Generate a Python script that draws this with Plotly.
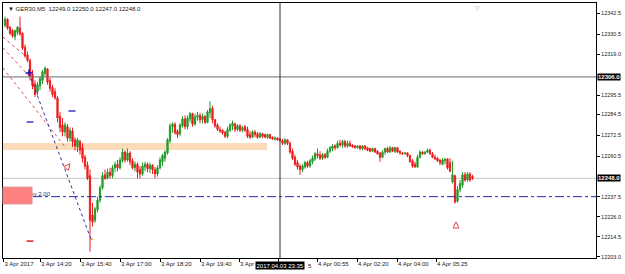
import plotly.graph_objects as go

# ---------------- data (GER30, M5) ----------------
opens = [
    12335.5, 12339, 12334.5, 12332.5, 12329, 12331.5, 12334, 12331, 12323, 12318.5,
    12315.5, 12307.5, 12302, 12297.5, 12301, 12304, 12308, 12310.5, 12304, 12300,
    12297.5, 12294, 12283.5, 12278.5, 12274.5, 12277.5, 12271, 12275, 12270, 12266,
    12269, 12265.5, 12260, 12255.5, 12249.5, 12227, 12224, 12230, 12235.5, 12242.5,
    12250, 12248, 12251.5, 12249.5, 12254, 12256, 12254, 12258, 12263, 12258.5,
    12262.5, 12258, 12254, 12256, 12253, 12250.5, 12254.5, 12256, 12253.5, 12255.5,
    12253, 12250.5, 12254, 12257.5, 12259.5, 12262.5, 12269.5, 12277.5, 12279, 12275,
    12273.5, 12278, 12282, 12277.5, 12282, 12285, 12279, 12283, 12284, 12281.5,
    12283.5, 12280, 12285.5, 12288, 12281.5, 12278.5, 12276, 12275.5, 12274.5, 12272,
    12275.5, 12278, 12279, 12276, 12278, 12275.5, 12277.5, 12276, 12273, 12271.5,
    12274.5, 12273.5, 12271.5, 12273.5, 12273, 12271.5, 12273, 12271.5, 12270.5, 12271,
    12270.5, 12269.5, 12268, 12270, 12268, 12263.5, 12260, 12257, 12255, 12253,
    12254.5, 12257, 12255, 12257.5, 12259, 12262, 12261.5, 12259.5, 12261.5, 12260,
    12263.5, 12265, 12266.5, 12265.5, 12268, 12267, 12269, 12266.5, 12268, 12267,
    12266.5, 12265.5, 12266.5, 12265, 12266.5, 12265.5, 12265, 12263.5, 12265, 12263.5,
    12262.5, 12260, 12263, 12265, 12263, 12265.5, 12263.5, 12265.5, 12263.5, 12262.5,
    12262, 12262.5, 12261, 12258, 12256, 12254.5, 12260, 12263, 12262, 12263,
    12264, 12262, 12260, 12259.5, 12258.5, 12256, 12258, 12259, 12257, 12246,
    12249.5, 12235, 12241.5, 12244, 12250, 12247, 12250.5, 12249,
]
highs = [
    12340.5, 12339.5, 12335, 12333.5, 12333, 12335, 12340.5, 12331.5, 12324.5, 12320.5,
    12316.5, 12310, 12304, 12303, 12306.5, 12310, 12312, 12311, 12305.5, 12301.5,
    12299.5, 12295, 12286, 12282.5, 12280, 12279, 12277, 12277, 12271.5, 12271,
    12270, 12268, 12261.5, 12257.5, 12253, 12234, 12231.5, 12237.5, 12244, 12251.5,
    12253, 12253.5, 12254, 12255.5, 12257.5, 12258.5, 12260, 12265, 12264, 12265,
    12263.5, 12259.5, 12257.5, 12257, 12255, 12257, 12257.5, 12257, 12257, 12256,
    12254.5, 12255.5, 12260, 12262, 12264, 12271, 12279.5, 12280, 12280, 12276,
    12279.5, 12283.5, 12284, 12284, 12286, 12285.5, 12285, 12286, 12285.5, 12285,
    12284, 12287, 12292, 12289.5, 12282, 12279.5, 12277.5, 12276, 12275, 12277.5,
    12279.5, 12281, 12280, 12279, 12279, 12278, 12278.5, 12277.5, 12275, 12275.5,
    12275.5, 12274.5, 12274.5, 12274, 12273.5, 12273.5, 12273.5, 12272, 12272, 12271.5,
    12271, 12270.5, 12271, 12270.5, 12269, 12265, 12261.5, 12258.5, 12256, 12256,
    12258, 12258, 12259, 12261, 12263, 12265, 12263.5, 12262.5, 12262.5, 12265,
    12266.5, 12267.5, 12267.5, 12269.5, 12270, 12270, 12270, 12269.5, 12269.5, 12267.5,
    12267, 12267, 12267, 12267, 12267, 12266, 12265.5, 12265.5, 12265.5, 12264,
    12263, 12264, 12265.5, 12266, 12266.5, 12266, 12266, 12266, 12264, 12263,
    12263, 12263, 12261.5, 12259, 12257.5, 12261.5, 12264, 12263.5, 12263.5, 12265,
    12265, 12263, 12261.5, 12260, 12259, 12259.5, 12259.5, 12259.5, 12259.5, 12258,
    12250, 12243.5, 12247, 12251.5, 12251.5, 12251.5, 12251.5, 12250,
]
lows = [
    12334.5, 12333, 12330, 12328.5, 12327, 12330, 12329.5, 12321.5, 12317, 12314.5,
    12304, 12299, 12294.5, 12295.5, 12298.5, 12302, 12306.5, 12301.5, 12297.5, 12294.5,
    12293, 12280, 12274.5, 12272, 12272, 12269, 12269, 12266, 12264, 12263,
    12261.5, 12257, 12253, 12247, 12206, 12220.5, 12222.5, 12228.5, 12234, 12241.5,
    12247, 12247.5, 12248, 12248, 12251.5, 12252, 12253, 12257, 12257, 12257.5,
    12255.5, 12253, 12252, 12248, 12248, 12249.5, 12252, 12251.5, 12251, 12250.5,
    12248, 12249, 12253, 12255, 12257.5, 12261.5, 12268, 12274, 12273, 12271,
    12272, 12277, 12276, 12276, 12280, 12277.5, 12278, 12281, 12279.5, 12279.5,
    12279, 12279.5, 12282.5, 12279.5, 12277, 12275, 12274, 12273, 12271, 12271,
    12274.5, 12275.5, 12274.5, 12275, 12274.5, 12274.5, 12274.5, 12271, 12270.5, 12271,
    12271.5, 12270.5, 12271, 12271, 12271, 12270.5, 12270.5, 12270, 12269.5, 12269.5,
    12269, 12267, 12267, 12267, 12262, 12258.5, 12255, 12253, 12250, 12251.5,
    12253.5, 12254, 12254, 12256, 12258, 12259.5, 12258.5, 12258.5, 12259, 12259.5,
    12262.5, 12263.5, 12264, 12265, 12266, 12265.5, 12265.5, 12265.5, 12266, 12265.5,
    12265, 12265, 12264, 12264, 12264, 12263.5, 12263, 12263, 12262.5, 12261.5,
    12257.5, 12259.5, 12261.5, 12262.5, 12262.5, 12263, 12262.5, 12262.5, 12261.5, 12261.5,
    12261.5, 12260, 12257, 12254, 12254, 12254, 12259.5, 12261.5, 12261.5, 12262.5,
    12261.5, 12259.5, 12258.5, 12257.5, 12255.5, 12255.5, 12256, 12253, 12251.5, 12245,
    12233.5, 12234, 12240, 12242.5, 12246, 12246, 12246, 12247,
]
closes = [
    12339, 12334, 12331, 12329.5, 12332.5, 12334.5, 12330.5, 12322.5, 12318, 12315.5,
    12306.5, 12301, 12296, 12301.5, 12305, 12309, 12311, 12303, 12299.5, 12296,
    12294, 12282.5, 12277, 12274.5, 12278.5, 12271, 12275.5, 12269, 12266.5, 12270,
    12264, 12259.5, 12255, 12248, 12224, 12223, 12230.5, 12235.5, 12242.5, 12249.5,
    12248, 12251.5, 12249.5, 12254, 12256, 12254, 12258.5, 12263, 12258.5, 12262.5,
    12257.5, 12254, 12256, 12251.5, 12250.5, 12255, 12256, 12253.5, 12255.5, 12253,
    12250.5, 12254, 12258.5, 12261, 12263, 12270, 12278, 12279, 12274, 12273,
    12278.5, 12282, 12277.5, 12282.5, 12285, 12279, 12283, 12284, 12281.5, 12283.5,
    12280, 12286, 12288, 12281.5, 12278, 12276, 12275, 12274, 12272, 12276,
    12278.5, 12279.5, 12276, 12278, 12275.5, 12277, 12275.5, 12272, 12271.5, 12274.5,
    12273, 12271.5, 12273.5, 12272, 12271.5, 12273, 12271, 12270.5, 12271, 12270,
    12269.5, 12268, 12270, 12268, 12263, 12259.5, 12256, 12254.5, 12253, 12255,
    12257, 12255, 12258, 12259.5, 12262, 12261, 12259.5, 12261.5, 12260, 12263.5,
    12265.5, 12266.5, 12265.5, 12268, 12267, 12269, 12266.5, 12268, 12266.5, 12266,
    12265.5, 12266.5, 12265, 12266.5, 12265, 12264, 12263.5, 12265, 12263, 12262,
    12260, 12263, 12265, 12263, 12265.5, 12263.5, 12265.5, 12263, 12262.5, 12262,
    12262.5, 12261, 12257.5, 12255, 12254.5, 12260, 12263, 12262, 12263, 12264,
    12262, 12260, 12259, 12258, 12257, 12258.5, 12259, 12254, 12252, 12250,
    12234.5, 12241.5, 12245, 12250, 12247, 12250.5, 12247, 12248,
]
bar_index = list(range(len(closes)))

# time axis (bar index of each label's tick); labels partly hidden by the
# crosshair time box are kept to their visible fragments
time_tick_pos = [-0.6, 14, 30, 46, 62, 78, 93.6, 109.2, 124.8, 140.8, 156.8, 172.4]
time_tick_labels = ["3 Apr 2017", "3 Apr 14:20", "3 Apr 15:40", "3 Apr 17:00",
                    "3 Apr 18:20", "3 Apr 19:40", "3 Apr", "",
                    "4 Apr 00:55", "4 Apr 02:20", "4 Apr 04:00", "4 Apr 05:25"]
hidden_label_tail, hidden_label_tail_pos = "5", 120.5

# price axis
price_ticks = [12342.5, 12330.5, 12319.0, 12295.5, 12284.5, 12272.5,
               12260.5, 12237.5, 12226.0, 12214.5, 12203.0]
price_range = [12202.4, 12348.3]
bar_range = [-0.8, 236.4]

# crosshair / price lines
cross_bar = 110
cross_time_label = "2017.04.03 23:35"
cross_price = 12306.0
bid_price = 12248.0
buy_price = 12237.5
buy_label = "buy 2.00"
buy_line_start = 11.2

# supply/demand band
band_low, band_high, band_end = 12264.2, 12268.2, 104.8

# trend lines: (bar0, price0, bar1, price1)
red_lines = [(-0.8, 12328.8, 10.0, 12315.7),
             (-0.8, 12322.5, 10.0, 12306.0),
             (-0.8, 12311.1, 24.4, 12265.3)]
blue_line = (9.6, 12308.2, 34.8, 12211.6)

# order markers
blue_dash_bars, blue_dash_prices = [10.0, 26.8], [12280.2, 12286.5]
red_dash_bars, red_dash_prices = [10.0], [12212.1]
arrow_bars, arrow_prices, arrow_angles = [26.0, 180.4], [12256.3, 12223.0], [40, 0]

title_text = "▼ GER30,M5  12249.0 12250.0 12247.0 12248.0"

# ---------------- figure ----------------
FONT = "Liberation Sans, Arial, sans-serif"
UP, DOWN = "#1f9a28", "#ee1c1c"

fig = go.Figure()
fig.add_trace(go.Candlestick(
    x=bar_index, open=opens, high=highs, low=lows, close=closes,
    increasing=dict(line=dict(color=UP, width=1), fillcolor=UP),
    decreasing=dict(line=dict(color=DOWN, width=1), fillcolor=DOWN),
    whiskerwidth=0, hoverinfo="skip", showlegend=False,
))

# buy label (as trace text so the pink box can cover its start)
fig.add_trace(go.Scatter(
    x=[8.8], y=[12239.0], mode="text", text=[buy_label],
    textposition="middle right",
    textfont=dict(family=FONT, size=6, color="#333366"),
    hoverinfo="skip", showlegend=False,
))
fig.add_trace(go.Scatter(
    x=[blue_line[0]], y=[blue_line[1]], mode="markers",
    marker=dict(symbol="cross-thin", size=5, line=dict(color="#1010c0", width=1.5)),
    hoverinfo="skip", showlegend=False,
))
fig.add_trace(go.Scatter(
    x=blue_dash_bars, y=blue_dash_prices, mode="markers",
    marker=dict(symbol="line-ew", size=5, line=dict(color="#3a3ac8", width=1.5)),
    hoverinfo="skip", showlegend=False,
))
fig.add_trace(go.Scatter(
    x=red_dash_bars, y=red_dash_prices, mode="markers",
    marker=dict(symbol="line-ew", size=5, line=dict(color="#e02020", width=1.5)),
    hoverinfo="skip", showlegend=False,
))
fig.add_trace(go.Scatter(
    x=arrow_bars, y=arrow_prices, mode="markers",
    marker=dict(symbol="arrow-up-open", size=6, angle=arrow_angles,
                color="#e04040", line=dict(color="#e04040", width=1)),
    hoverinfo="skip", showlegend=False,
))
fig.add_trace(go.Scatter(
    x=[blue_line[2]], y=[blue_line[3] + 1.5], mode="markers",
    marker=dict(symbol="triangle-up", size=3, color="#f0a020"),
    hoverinfo="skip", showlegend=False,
))

shapes = [
    dict(type="rect", xref="x", yref="y", x0=bar_range[0], x1=band_end,
         y0=band_low, y1=band_high,
         fillcolor="#fcdcb8", line=dict(width=0), layer="below"),
    dict(type="line", xref="x", yref="y", x0=bar_range[0], x1=bar_range[1],
         y0=bid_price, y1=bid_price, line=dict(color="#c4c4c4", width=1), layer="below"),
    dict(type="line", xref="x", yref="y", x0=buy_line_start, x1=bar_range[1],
         y0=buy_price, y1=buy_price, line=dict(color="#2828a8", width=1, dash="dashdot"),
         layer="above"),
    dict(type="line", xref="paper", yref="y", x0=0, x1=1, y0=cross_price, y1=cross_price,
         line=dict(color="#6a6a6a", width=1), layer="above"),
    dict(type="line", xref="x", yref="paper", x0=cross_bar, x1=cross_bar, y0=0, y1=1,
         line=dict(color="#303030", width=1), layer="above"),
    dict(type="rect", xref="paper", yref="y", x0=0.0, x1=0.049, y0=12233.3, y1=12243.0,
         fillcolor="#ff8080", line=dict(color="#d89a9a", width=1), layer="above"),
]
for (a0, p0, a1, p1) in red_lines:
    shapes.append(dict(type="line", xref="x", yref="y", x0=a0, y0=p0, x1=a1, y1=p1,
                       line=dict(color="#e05050", width=1, dash="dot"), layer="above"))
shapes.append(dict(type="line", xref="x", yref="y", x0=blue_line[0], y0=blue_line[1],
                   x1=blue_line[2], y1=blue_line[3],
                   line=dict(color="#3030a8", width=1, dash="dot"), layer="above"))

annotations = [
    dict(text=title_text, xref="paper", yref="paper", x=0, y=1, xanchor="left",
         yanchor="top", xshift=3, yshift=-1, showarrow=False,
         font=dict(family=FONT, size=6, color="#222222")),
    dict(text="▽", xref="x", yref="paper", x=188.8, y=1, xanchor="center",
         yanchor="top", yshift=1, showarrow=False,
         font=dict(family="DejaVu Sans", size=6, color="#a8a8a8")),
    dict(text="<b>%.1f</b>" % cross_price, xref="paper", yref="y", x=1, y=cross_price,
         xanchor="left", yanchor="middle", xshift=1, showarrow=False,
         bgcolor="#000000", borderpad=0,
         font=dict(family=FONT, size=6, color="#ffffff")),
    dict(text="<b>%.1f</b>" % bid_price, xref="paper", yref="y", x=1, y=bid_price,
         xanchor="left", yanchor="middle", xshift=1, showarrow=False,
         bgcolor="#000000", borderpad=0,
         font=dict(family=FONT, size=6, color="#ffffff")),
    dict(text=cross_time_label, xref="x", yref="paper", x=cross_bar, y=0,
         xanchor="center", yanchor="top", yshift=-3, showarrow=False,
         bgcolor="#000000", borderpad=0.5,
         font=dict(family=FONT, size=6, color="#ffffff")),
    dict(text=hidden_label_tail, xref="x", yref="paper", x=hidden_label_tail_pos, y=0,
         xanchor="left", yanchor="top", yshift=-3, showarrow=False,
         font=dict(family=FONT, size=6, color="#222222")),
]

fig.update_layout(
    width=625, height=274,
    margin=dict(l=3, r=29, t=3, b=16, autoexpand=False),
    paper_bgcolor="#ffffff", plot_bgcolor="#ffffff",
    showlegend=False,
    shapes=shapes, annotations=annotations,
    xaxis=dict(
        range=bar_range, rangeslider=dict(visible=False), type="linear",
        showgrid=False, zeroline=False, automargin=False,
        showline=True, linecolor="#000000", linewidth=1, mirror=True,
        ticks="outside", ticklen=3, tickcolor="#000000", tickwidth=1,
        tickvals=time_tick_pos, ticktext=time_tick_labels, tickangle=0,
        ticklabelposition="outside right",
        tickfont=dict(family=FONT, size=6, color="#222222"),
        fixedrange=True,
    ),
    yaxis=dict(
        range=price_range, side="right", automargin=False,
        showgrid=False, zeroline=False,
        showline=True, linecolor="#000000", linewidth=1, mirror=True,
        ticks="outside", ticklen=3, tickcolor="#000000", tickwidth=1,
        tickvals=price_ticks, ticktext=["%.1f" % v for v in price_ticks],
        tickfont=dict(family=FONT, size=5.5, color="#222222"),
        fixedrange=True,
    ),
)

fig.write_html("out.html")
